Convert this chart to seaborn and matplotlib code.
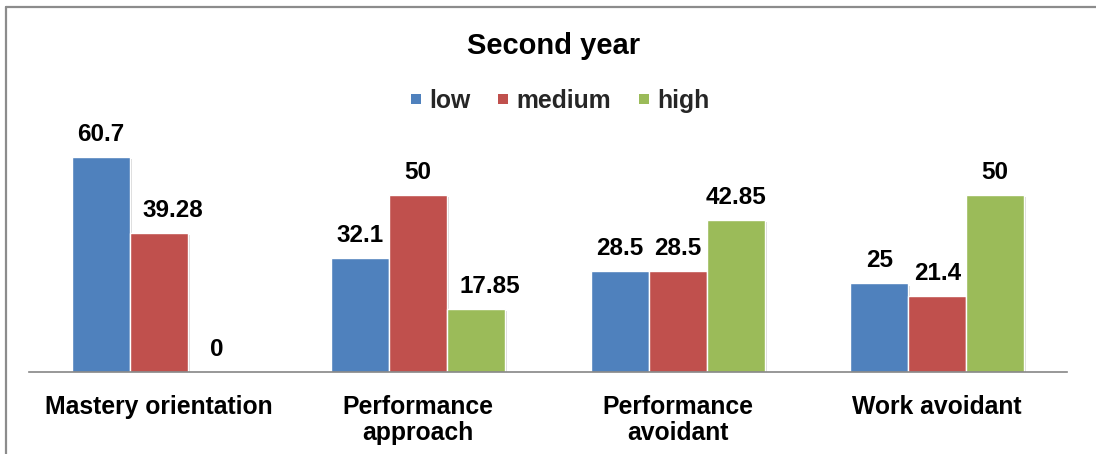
import matplotlib
matplotlib.use("Agg")
import matplotlib.pyplot as plt
from matplotlib.lines import Line2D
from matplotlib import patheffects
import seaborn as sns
import pandas as pd

# Goal-orientation categories and the share (%) of students at each level
categories = ["Mastery orientation", "Performance\napproach",
              "Performance\navoidant", "Work avoidant"]
levels = ["low", "medium", "high"]
low_vals = [60.7, 32.1, 28.5, 25]
medium_vals = [39.28, 50, 28.5, 21.4]
high_vals = [0, 17.85, 42.85, 50]
level_colors = ["#4F81BD", "#C0504D", "#9BBB59"]

sns.set_theme(style="white")
plt.rcParams["font.family"] = ["Liberation Sans", "DejaVu Sans"]
plt.rcParams["font.weight"] = "bold"

df = pd.DataFrame({
    "goal": categories * 3,
    "level": [lv for lv in levels for _ in categories],
    "pct": low_vals + medium_vals + high_vals,
})

W, H = 1096, 454
fig = plt.figure(figsize=(W / 100, H / 100), dpi=100)
fig.patch.set_facecolor("white")
ax = fig.add_axes([29 / W, 1 - 372 / H, 1038 / W, 248 / H])

shadow = [patheffects.SimplePatchShadow(offset=(1.5, -1.5), shadow_rgbFace="#7f7f7f", alpha=0.3),
          patheffects.Normal()]

sns.barplot(data=df, x="goal", y="pct", hue="level", order=categories,
            hue_order=levels, palette=level_colors, saturation=1, width=0.67,
            edgecolor="white", linewidth=1.0, legend=False, ax=ax)

ax.set_ylim(0, 70)
ax.set_xlim(-0.5, 3.5)
ax.set_xlabel("")
ax.set_ylabel("")
ax.set_yticks([])
ax.tick_params(axis="x", length=0, pad=16.5)
for lab in ax.get_xticklabels():
    lab.set_fontsize(17.8)
    lab.set_fontweight("bold")
    lab.set_color("black")
    lab.set_linespacing(1.13)
for side in ["top", "right", "left"]:
    ax.spines[side].set_visible(False)
ax.spines["bottom"].set_color("#868686")
ax.spines["bottom"].set_linewidth(1.2)
ax.patch.set_alpha(0)

# value labels above each bar
series = [low_vals, medium_vals, high_vals]
labels = []
for k, (container, vals) in enumerate(zip(ax.containers, series)):
    for i, (bar, v) in enumerate(zip(container, vals)):
        bar.set_path_effects(shadow)
        t = ax.annotate(f"{v:g}", (bar.get_x() + bar.get_width() / 2, bar.get_height()),
                        xytext=(0, 11.5), textcoords="offset points",
                        ha="center", va="baseline", fontsize=17.5,
                        fontweight="bold", color="black")
        labels.append((k, i, bar, t))

# nudge a label to the right when it would run into the taller bar on its left
fig.canvas.draw()
renderer = fig.canvas.get_renderer()
for k, i, bar, t in labels:
    if k == 0:
        continue
    left_bar = ax.containers[k - 1][i]
    tb = t.get_window_extent(renderer)
    lb = left_bar.get_window_extent(renderer)
    if tb.x0 < lb.x1 and lb.y1 > tb.y0:
        t.xyann = (10, 11.5)

fig.text(554 / W, 1 - 54 / H, "Second year", ha="center", va="baseline",
         fontsize=21, fontweight="bold", color="black")

handles = [Line2D([], [], marker="s", linestyle="", markersize=6.5,
                  markerfacecolor=c, markeredgewidth=0) for c in level_colors]
fig.legend(handles, levels, loc="center", bbox_to_anchor=(560 / W, 1 - 101 / H),
           ncol=3, frameon=False, handlelength=0.45, handletextpad=0.3,
           columnspacing=1.1, borderpad=0, prop={"size": 17.8, "weight": "bold"})

# chart-area border (top and left edges)
border = dict(color="#8c8c8c", linewidth=1.6, transform=fig.transFigure)
fig.add_artist(Line2D([6 / W, 1.01], [1 - 7 / H, 1 - 7 / H], **border))
fig.add_artist(Line2D([6 / W, 6 / W], [1 - 7 / H, -0.01], **border))

fig.savefig("out.png", dpi=100, facecolor="white")
